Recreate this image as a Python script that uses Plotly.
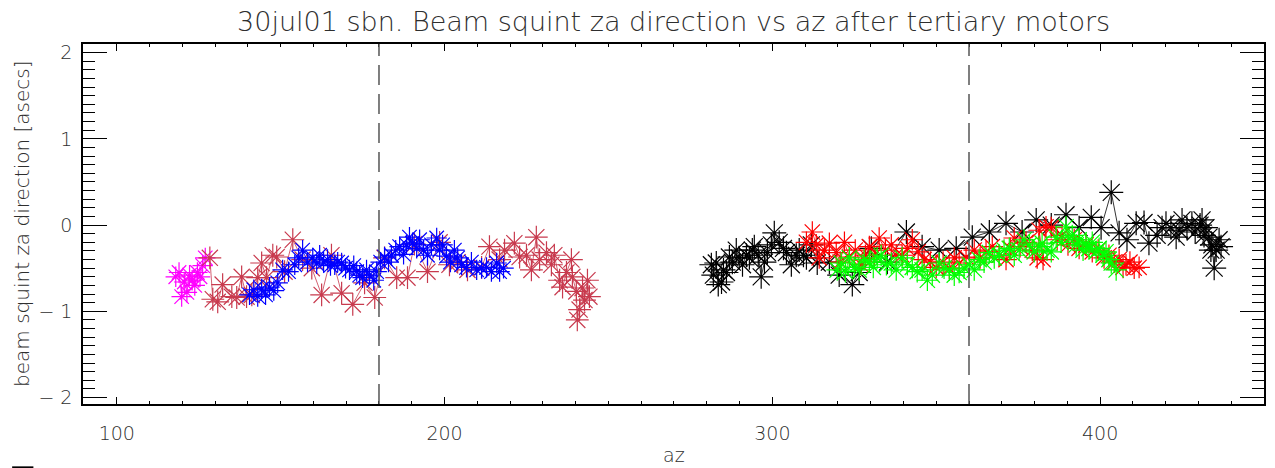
import plotly.graph_objects as go

# ---------------- data ----------------
magenta_az = [118.0, 119.0, 119.8, 120.6, 121.4, 122.2, 123.0, 123.8, 124.6, 125.4, 126.2, 127.0]
magenta_val = [-0.60, -0.55, -0.83, -0.66, -0.78, -0.58, -0.64, -0.70, -0.55, -0.60, -0.47, -0.38]

brick_az = [128.4, 129.3, 130.8, 132.3, 135.1, 136.6, 138.1, 139.6, 141.2, 143.0, 144.2, 145.7,
            147.6, 148.8, 151.2, 153.7, 156.7, 159.5, 162.5, 165.5, 168.6, 172.0, 175.6, 178.7,
            181.7, 185.4, 188.7, 190.8, 194.8, 198.5, 201.5, 204.0, 207.0, 211.3, 213.7, 216.8,
            218.3, 221.3, 222.9, 225.0, 226.5, 228.0, 229.0, 231.1, 232.6, 233.5, 235.1, 236.0,
            237.2, 238.7, 239.0, 240.2, 240.5, 241.2, 242.1, 242.7, 243.6, 244.2]
brick_val = [-0.38, -0.86, -0.89, -0.69, -0.83, -0.84, -0.60, -0.83, -0.81, -0.61, -0.44, -0.61,
             -0.35, -0.37, -0.54, -0.17, -0.40, -0.50, -0.81, -0.35, -0.79, -0.92, -0.67, -0.84,
             -0.38, -0.61, -0.61, -0.22, -0.54, -0.20, -0.46, -0.43, -0.52, -0.49, -0.25, -0.40,
             -0.29, -0.21, -0.37, -0.35, -0.52, -0.14, -0.40, -0.32, -0.46, -0.35, -0.64, -0.72,
             -0.55, -0.40, -0.60, -0.77, -1.10, -0.98, -0.73, -0.87, -0.64, -0.83]

blue_az = [140.5, 141.8, 143.0, 144.2, 145.4, 146.6, 147.9, 149.1, 150.6, 152.4, 154.3, 155.5,
           156.7, 158.2, 159.8, 161.0, 161.9, 163.1, 164.3, 165.2, 166.5, 167.4, 168.6, 169.8,
           171.0, 172.3, 173.2, 174.1, 175.0, 176.2, 177.1, 178.4, 179.3, 180.5, 181.7, 182.9,
           183.8, 185.1, 186.3, 187.5, 188.4, 189.3, 190.2, 191.5, 192.4, 193.6, 194.8, 196.0,
           197.6, 198.5, 199.4, 200.6, 201.8, 203.0, 204.0, 205.2, 206.7, 208.2, 209.8, 211.3,
           212.8, 214.3, 215.9, 216.8, 218.0]
blue_val = [-0.81, -0.75, -0.83, -0.74, -0.81, -0.72, -0.76, -0.67, -0.52, -0.54, -0.46, -0.38,
            -0.29, -0.43, -0.38, -0.45, -0.35, -0.43, -0.40, -0.47, -0.46, -0.43, -0.44, -0.50,
            -0.52, -0.47, -0.54, -0.58, -0.61, -0.52, -0.58, -0.64, -0.54, -0.43, -0.37, -0.43,
            -0.35, -0.29, -0.25, -0.34, -0.23, -0.14, -0.21, -0.27, -0.17, -0.29, -0.35, -0.23,
            -0.15, -0.29, -0.23, -0.36, -0.43, -0.29, -0.38, -0.46, -0.49, -0.43, -0.52, -0.50,
            -0.49, -0.54, -0.44, -0.54, -0.50]

black_az = [281.4, 282.0, 282.9, 283.5, 284.5, 285.1, 286.0, 286.9, 287.8, 289.0, 289.9, 290.9,
            292.1, 293.0, 293.9, 294.5, 295.7, 296.6, 297.6, 298.5, 299.7, 300.6, 302.1, 303.4,
            304.3, 305.8, 307.3, 308.2, 309.5, 310.4, 311.9, 313.7, 317.4, 320.4, 324.4, 326.5,
            330.2, 335.1, 340.9, 345.7, 350.9, 356.1, 361.0, 366.2, 371.3, 376.2, 380.5, 385.1,
            389.6, 393.6, 397.3, 400.3, 403.4, 405.8, 408.2, 411.0, 413.4, 414.9, 417.4, 418.9,
            420.1, 421.6, 423.2, 424.1, 425.0, 426.5, 428.0, 429.0, 430.5, 431.1, 431.7, 432.3,
            433.2, 433.8, 434.1, 434.8, 435.4, 436.3, 436.9]
black_val = [-0.46, -0.58, -0.44, -0.69, -0.66, -0.52, -0.55, -0.37, -0.43, -0.29, -0.38, -0.46,
             -0.35, -0.38, -0.29, -0.25, -0.35, -0.60, -0.43, -0.32, -0.23, -0.09, -0.20, -0.27,
             -0.32, -0.46, -0.35, -0.29, -0.35, -0.38, -0.23, -0.44, -0.43, -0.58, -0.69, -0.55,
             -0.27, -0.43, -0.08, -0.25, -0.29, -0.27, -0.14, -0.08, 0.02, -0.08, 0.06, 0.00,
             0.12, -0.03, 0.09, -0.03, 0.38, -0.09, -0.17, 0.02, 0.03, -0.21, -0.12, -0.03,
             0.02, -0.03, -0.14, -0.06, 0.06, -0.03, 0.02, -0.08, 0.00, 0.06, -0.12, -0.03,
             -0.14, -0.29, -0.23, -0.50, -0.29, -0.17, -0.25]

red_az = [310.4, 312.2, 313.4, 314.3, 315.9, 317.4, 319.5, 320.7, 322.0, 323.5, 325.3, 327.1,
          328.4, 329.6, 331.1, 332.6, 334.5, 336.3, 337.8, 339.6, 341.2, 342.7, 344.5, 346.3,
          348.2, 350.0, 352.1, 354.0, 355.5, 357.0, 359.1, 361.6, 363.4, 365.2, 367.1, 369.2,
          371.3, 372.6, 373.8, 375.6, 377.4, 379.3, 380.8, 381.4, 382.6, 383.5, 385.1, 386.9,
          388.4, 390.2, 392.1, 393.6, 395.7, 397.6, 399.4, 401.2, 402.7, 404.3, 405.8, 407.0,
          407.9, 409.1, 410.4, 411.9]
red_val = [-0.20, -0.08, -0.23, -0.38, -0.29, -0.21, -0.32, -0.43, -0.20, -0.37, -0.29, -0.46,
           -0.35, -0.25, -0.35, -0.15, -0.29, -0.23, -0.35, -0.35, -0.27, -0.17, -0.31, -0.40,
           -0.43, -0.49, -0.43, -0.50, -0.38, -0.44, -0.37, -0.29, -0.38, -0.31, -0.25, -0.35,
           -0.40, -0.27, -0.15, -0.25, -0.20, -0.29, -0.38, -0.06, -0.40, -0.02, -0.03, -0.17,
           -0.12, -0.23, -0.17, -0.27, -0.23, -0.31, -0.29, -0.38, -0.35, -0.43, -0.40, -0.49,
           -0.46, -0.43, -0.50, -0.49]

green_az = [319.8, 321.0, 322.3, 323.5, 325.0, 326.5, 328.0, 329.6, 330.8, 332.0, 333.2, 334.8,
            336.3, 337.8, 339.6, 341.2, 342.7, 344.2, 345.7, 347.3, 348.8, 350.9, 352.4, 354.0,
            355.5, 357.0, 358.5, 360.1, 361.6, 363.1, 364.6, 366.2, 367.7, 369.2, 370.7, 372.3,
            373.8, 375.3, 376.8, 378.4, 379.9, 381.4, 382.3, 383.8, 385.1, 386.6, 388.1, 389.6,
            390.5, 391.5, 392.7, 393.6, 394.8, 395.7, 396.6, 397.6, 398.8, 399.7, 400.9, 401.8,
            402.7, 403.4, 404.9]
green_val = [-0.52, -0.44, -0.54, -0.38, -0.49, -0.52, -0.40, -0.43, -0.49, -0.38, -0.35, -0.46,
             -0.44, -0.52, -0.38, -0.46, -0.49, -0.54, -0.52, -0.64, -0.58, -0.44, -0.50, -0.52,
             -0.58, -0.55, -0.50, -0.46, -0.52, -0.40, -0.43, -0.32, -0.38, -0.35, -0.29, -0.27,
             -0.35, -0.29, -0.17, -0.23, -0.31, -0.25, -0.21, -0.29, -0.31, -0.14, -0.20, -0.02,
             -0.15, -0.12, -0.23, -0.17, -0.29, -0.21, -0.27, -0.20, -0.31, -0.27, -0.35, -0.31,
             -0.40, -0.44, -0.52]

x_ticks = [100, 200, 300, 400]
y_ticks = [-2, -1, 0, 1, 2]
y_tick_text = ["\u2212 2", "\u2212 1", "0", "1", "2"]
ref_lines = [180, 360]

title_text = "30jul01 sbn. Beam squint za direction vs az after tertiary motors"
x_title = "az"
y_title = "beam squint za direction [asecs]"

series = [
    (magenta_az, magenta_val, "#ff00ff", 17),
    (brick_az, brick_val, "#c83a4e", 19),
    (blue_az, blue_val, "#0000ff", 17),
    (black_az, black_val, "#000000", 20),
    (red_az, red_val, "#ff0000", 18),
    (green_az, green_val, "#00ff00", 18),
]

# ---------------- figure ----------------
FONT = "DejaVu Sans"
TXT = "#2e2e2e"
fig = go.Figure()
for az, val, col, sz in series:
    fig.add_trace(go.Scatter(
        x=az, y=val, mode="lines+markers",
        line=dict(color=col, width=0.8),
        marker=dict(symbol="asterisk-open", size=sz, color=col,
                    line=dict(color=col, width=1.2)),
        showlegend=False, hoverinfo="x+y"))

for xv in ref_lines:
    fig.add_shape(type="line", xref="x", yref="paper", x0=xv, x1=xv, y0=0, y1=1,
                  line=dict(color="#555555", width=1.5, dash="20px,9px"), layer="above")

# small stray mark at lower left (as in reference)
fig.add_shape(type="line", xref="paper", yref="paper", x0=-0.060, x1=-0.042,
              y0=-0.176, y1=-0.176, line=dict(color="#000000", width=2))

fig.add_annotation(text=y_title, xref="paper", yref="paper", x=-0.0517, y=0.5,
                   xanchor="center", yanchor="middle", textangle=-90, showarrow=False,
                   font=dict(family=FONT, size=20, color=TXT, weight=300))
fig.add_annotation(text=x_title, xref="paper", yref="paper", x=0.5, y=-0.142,
                   xanchor="center", yanchor="middle", showarrow=False,
                   font=dict(family=FONT, size=19, color=TXT, weight=300))

axis_font = dict(family=FONT, size=19, color=TXT, weight=300)
fig.update_layout(
    width=1275, height=468,
    margin=dict(l=83, r=11, t=44, b=64, autoexpand=False),
    paper_bgcolor="white", plot_bgcolor="white",
    title=dict(text=title_text, x=0.5283, xanchor="center", y=0.953, yanchor="middle",
               font=dict(family=FONT, size=27, color=TXT, weight=300)),
    font=axis_font,
)
fig.update_xaxes(
    range=[89.7, 450], tickvals=x_ticks, ticks="inside", ticklen=7, tickwidth=1,
    tickcolor="#000", showline=True, linecolor="#000", linewidth=1.5, mirror="ticks",
    showgrid=False, zeroline=False, tickfont=axis_font, ticklabelstandoff=11, automargin=False,
    minor=dict(dtick=10, ticks="inside", ticklen=3, tickcolor="#000", showgrid=False),
)
fig.update_yaxes(
    range=[-2.075, 2.1], tickvals=y_ticks, ticktext=y_tick_text, ticks="inside", ticklen=24,
    tickwidth=1, tickcolor="#000", showline=True, linecolor="#000", linewidth=1.5,
    mirror="ticks", showgrid=False, zeroline=False, tickfont=axis_font,
    ticklabelstandoff=5, automargin=False,
    minor=dict(dtick=0.1, ticks="inside", ticklen=12, tickcolor="#000", showgrid=False),
)

fig.write_html("out.html", config={"displayModeBar": False},
               post_script="document.body.style.margin='0px';document.body.style.overflow='hidden';")
